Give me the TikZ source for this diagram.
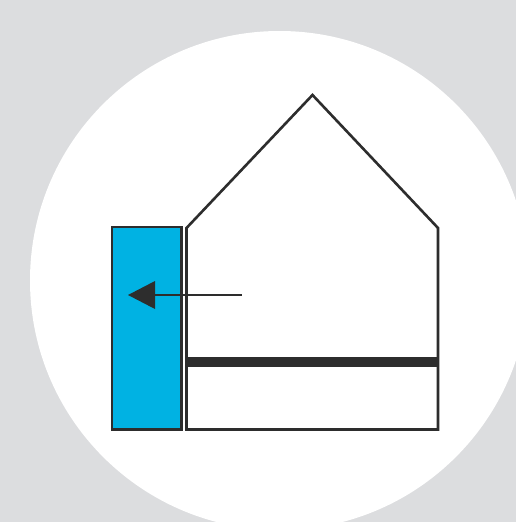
\documentclass[tikz,border=0pt]{standalone}
\definecolor{bggray}{RGB}{220,221,223}
\definecolor{wallblue}{RGB}{0,178,227}
\definecolor{ink}{RGB}{45,45,45}
\tikzset{
  outline/.style={draw=ink,line width=2.6pt,line join=miter},
  pointer/.style={draw=ink,line width=2.6pt},
  floorbar/.style={draw=ink,line width=10pt},
}
\begin{document}
\begin{tikzpicture}[x=1pt,y=-1pt]
\useasboundingbox (0,0) rectangle (516,522);
\fill[bggray] (0,0) rectangle (516,522);
\begin{scope}
\clip (0,0) rectangle (516,522);
\fill[white] (279.5,280.5) circle[radius=249.5];
\end{scope}
\draw[outline,fill=wallblue] (112,227) rectangle (181.5,429.5);
\draw[outline] (186.5,429.5) -- (186.5,228) -- (312.5,95) -- (438,228) -- (438,429.5) -- cycle;
\coordinate (barL) at (187,362);
\coordinate (barR) at (438,362);
\draw[floorbar] (barL) -- (barR);
\coordinate (arrowStart) at (241.5,295);
\coordinate (arrowBase) at (155,295);
\coordinate (arrowTip) at (128,295);
\draw[pointer] (arrowStart) -- (arrowBase);
\fill[ink] (arrowTip) -- (155,281) -- (155,309) -- cycle;
\end{tikzpicture}
\end{document}
